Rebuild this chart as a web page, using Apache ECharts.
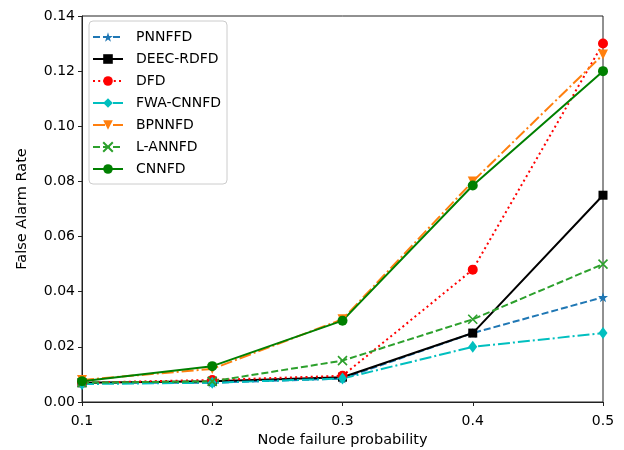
<!DOCTYPE html>
<html>
<head>
<meta charset="utf-8">
<script src="https://cdn.jsdelivr.net/npm/echarts@6/dist/echarts.min.js"></script>
<style>html,body{margin:0;padding:0;background:#fff}#c{width:624px;height:450px}</style>
</head>
<body>
<div id="c"></div>
<script>
const xValues = [0.1, 0.2, 0.3, 0.4, 0.5];
const seriesNames = ['PNNFFD', 'DEEC-RDFD', 'DFD', 'FWA-CNNFD', 'BPNNFD', 'L-ANNFD', 'CNNFD'];
const PNNFFD   = [0.007, 0.007, 0.0085, 0.025, 0.038];
const DEEC_RDFD = [0.007, 0.0075, 0.009, 0.025, 0.075];
const DFD      = [0.007, 0.008, 0.0095, 0.048, 0.130];
const FWA_CNNFD = [0.0065, 0.007, 0.0085, 0.020, 0.025];
const BPNNFD   = [0.008, 0.012, 0.030, 0.080, 0.126];
const L_ANNFD  = [0.007, 0.0075, 0.015, 0.030, 0.050];
const CNNFD    = [0.0075, 0.013, 0.0295, 0.0785, 0.120];
const yTicks = [0, 0.02, 0.04, 0.06, 0.08, 0.10, 0.12, 0.14];

const starPath = 'path://M50,0 L61.8,35.1 L98.1,35.1 L68.8,56.7 L79.4,90.5 L50,69.5 L20.6,90.5 L31.2,56.7 L1.9,35.1 L38.2,35.1 Z';
const xPath = 'path://M0,0 L10,10 M10,0 L0,10';

const styles = [
  {data: PNNFFD, color: '#1f77b4', type: [7, 3], symbol: starPath, size: 10},
  {data: DEEC_RDFD, color: '#000000', type: 'solid', symbol: 'rect', size: 9},
  {data: DFD, color: '#ff0000', type: [2, 3.2], symbol: 'circle', size: 10},
  {data: FWA_CNNFD, color: '#00bfbf', type: [12, 3, 2, 3], symbol: 'diamond', size: [9, 12]},
  {data: BPNNFD, color: '#ff7f0e', type: [12, 3, 2, 3], symbol: 'triangle', size: 10, rotate: 180},
  {data: L_ANNFD, color: '#2ca02c', type: [7, 3], symbol: xPath, size: 9, stroke: true},
  {data: CNNFD, color: '#008000', type: 'solid', symbol: 'circle', size: 10}
];

const series = styles.map((s, i) => ({
  name: seriesNames[i],
  type: 'line',
  data: xValues.map((x, j) => [x, s.data[j]]),
  symbol: s.symbol,
  symbolSize: s.size,
  symbolRotate: s.rotate || 0,
  showSymbol: true,
  clip: true,
  animation: false,
  lineStyle: {color: s.color, width: 2, type: s.type},
  itemStyle: s.stroke ? {color: 'rgba(0,0,0,0)', borderColor: s.color, borderWidth: 1.6}
                      : {color: s.color, borderWidth: 0},
  emphasis: {disabled: true}
}));

const chart = echarts.init(document.getElementById('c'), null, {renderer: 'canvas'});
chart.setOption({
  backgroundColor: '#fff',
  animation: false,
  textStyle: {fontFamily: 'DejaVu Sans'},
  grid: {left: 82, right: 21, top: 16, bottom: 48, show: true, borderColor: '#222', borderWidth: 1,
         containLabel: false, outerBoundsMode: 'none'},
  xAxis: {
    type: 'value', min: 0.1, max: 0.5, interval: 0.1,
    name: 'Node failure probability', nameLocation: 'middle', nameGap: 28,
    nameTextStyle: {fontFamily: 'DejaVu Sans', fontSize: 14.5, color: '#000'},
    axisLine: {show: true, lineStyle: {color: '#222', width: 1}},
    axisTick: {show: true, length: 4, lineStyle: {color: '#222'}},
    axisLabel: {fontFamily: 'DejaVu Sans', fontSize: 14, color: '#000', margin: 12,
      formatter: v => v.toFixed(1)},
    splitLine: {show: false}
  },
  yAxis: {
    type: 'value', min: 0, max: 0.14, interval: 0.02,
    name: 'False Alarm Rate', nameLocation: 'middle', nameGap: 52, nameRotate: 90,
    nameTextStyle: {fontFamily: 'DejaVu Sans', fontSize: 14.5, color: '#000'},
    axisLine: {show: true, lineStyle: {color: '#222', width: 1}},
    axisTick: {show: true, length: 4, lineStyle: {color: '#222'}},
    axisLabel: {fontFamily: 'DejaVu Sans', fontSize: 14, color: '#000', margin: 7,
      formatter: v => v.toFixed(2)},
    splitLine: {show: false}
  },
  legend: {
    data: seriesNames,
    orient: 'vertical', left: 89, top: 21,
    itemWidth: 30, itemHeight: 12, itemGap: 8,
    padding: [9, 6, 8, 3],
    backgroundColor: '#fff', borderColor: '#cccccc', borderWidth: 1, borderRadius: 4,
    textStyle: {fontFamily: 'DejaVu Sans', fontSize: 14, lineHeight: 14, color: '#000', padding: [0, 0, 0, 8]},
    selectedMode: false
  },
  series: series
});
</script>
</body>
</html>
